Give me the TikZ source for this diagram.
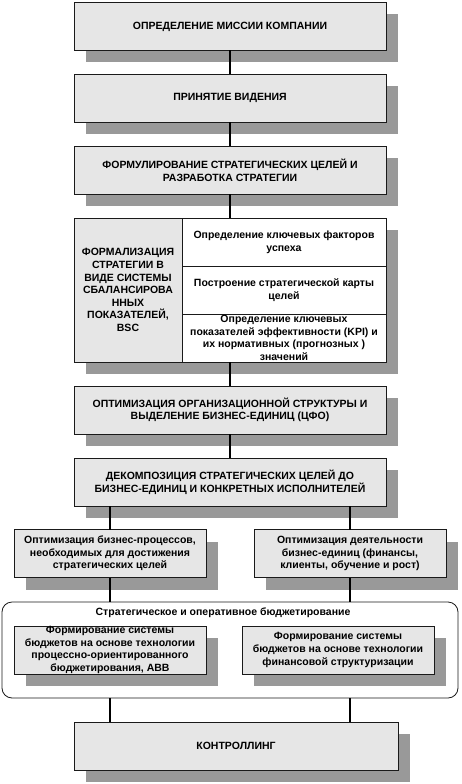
\documentclass[tikz,border=0pt]{standalone}
\usepackage{fontspec}
\setmainfont{Liberation Sans}
\usetikzlibrary{positioning, shadows}
\definecolor{boxgray}{HTML}{E6E6E6}
\definecolor{shadegray}{HTML}{999999}
\definecolor{edge}{HTML}{1A1A1A}

\begin{document}
\begin{tikzpicture}[x=1pt, y=1pt,
    every node/.style={font=\fontsize{10.5}{12.6}\selectfont\bfseries, align=center, inner sep=0pt, outer sep=0pt},
    box/.style={draw=edge, line width=0.8pt, fill=boxgray, minimum height=48pt,
        drop shadow={shadow xshift=12pt, shadow yshift=-12pt, fill=shadegray, opacity=1}},
    wide/.style={box, minimum width=312pt},
    half/.style={box, minimum width=192pt},
    cell/.style={draw=edge, line width=0.8pt, fill=white, minimum width=204pt, minimum height=48pt},
    link/.style={draw=black, line width=2.6pt},
]
\useasboundingbox (0,0) rectangle (461,-784);

% ---------------- main chain
\node[wide] (mission) at (230,-26.5) {ОПРЕДЕЛЕНИЕ МИССИИ КОМПАНИИ};
\node[wide] (vision) at (230,-98) {ПРИНЯТИЕ ВИДЕНИЯ};
\node[wide] (goals) at (230,-170) {ФОРМУЛИРОВАНИЕ СТРАТЕГИЧЕСКИХ ЦЕЛЕЙ И\\РАЗРАБОТКА СТРАТЕГИИ};

% ---------------- BSC block
\node[wide, fill=white, minimum height=144pt] (bsc) at (230,-290) {};
\node[cell, fill=boxgray, minimum width=108pt, minimum height=144pt, anchor=north west] (bscL) at (bsc.north west)
    {ФОРМАЛИЗАЦИЯ\\СТРАТЕГИИ В\\ВИДЕ СИСТЕМЫ\\СБАЛАНСИРОВА\\ННЫХ\\ПОКАЗАТЕЛЕЙ,\\BSC};
\node[cell, anchor=north east] (ksf) at (bsc.north east) {Определение ключевых факторов\\успеха};
\node[cell, below=0pt of ksf] (smap) {Построение стратегической карты\\целей};
\node[cell, below=0pt of smap] (kpi) {Определение ключевых\\показателей эффективности (KPI) и\\их нормативных (прогнозных )\\значений};

\node[wide] (orgs) at (230,-410) {ОПТИМИЗАЦИЯ ОРГАНИЗАЦИОННОЙ СТРУКТУРЫ И\\ВЫДЕЛЕНИЕ БИЗНЕС-ЕДИНИЦ (ЦФО)};
\node[wide] (decomp) at (230,-482) {ДЕКОМПОЗИЦИЯ СТРАТЕГИЧЕСКИХ ЦЕЛЕЙ ДО\\БИЗНЕС-ЕДИНИЦ И КОНКРЕТНЫХ ИСПОЛНИТЕЛЕЙ};

% ---------------- two branches
\node[half] (procs) at (110,-553.5) {Оптимизация бизнес-процессов,\\необходимых для достижения\\стратегических целей};
\node[half] (units) at (350,-553.5) {Оптимизация деятельности\\бизнес-единиц (финансы,\\клиенты, обучение и рост)};

% ---------------- budgeting frame
\node[draw=edge, line width=0.8pt, rounded corners=10pt, minimum width=456pt, minimum height=96pt] (budget) at (230,-650) {};
\node (budtitle) at (223,-613) {Стратегическое и оперативное бюджетирование};
\node[half] (abb) at (110,-650) {Формирование системы\\бюджетов на основе технологии\\процессно-ориентированного\\бюджетирования, ABB};
\node[half] (fin) at (338,-650) {Формирование системы\\бюджетов на основе технологии\\финансовой структуризации};

\node[box, minimum width=324pt] (ctrl) at (236,-746) {КОНТРОЛЛИНГ};

% ---------------- connectors
\draw[link] (mission) -- (vision);
\draw[link] (vision) -- (goals);
\draw[link] (goals.south) -- (goals.south |- bsc.north);
\draw[link] (bsc.south) -- (orgs.north);
\draw[link] (orgs) -- (decomp);
\draw[link] (procs.north |- decomp.south) -- (procs.north);
\draw[link] (units.north |- decomp.south) -- (units.north);
\draw[link] (procs.south) -- (procs.south |- budget.north);
\draw[link] (units.south) -- (units.south |- budget.north);
\draw[link] (procs.south |- budget.south) -- (procs.south |- ctrl.north);
\draw[link] (units.south |- budget.south) -- (units.south |- ctrl.north);
\end{tikzpicture}
\end{document}
